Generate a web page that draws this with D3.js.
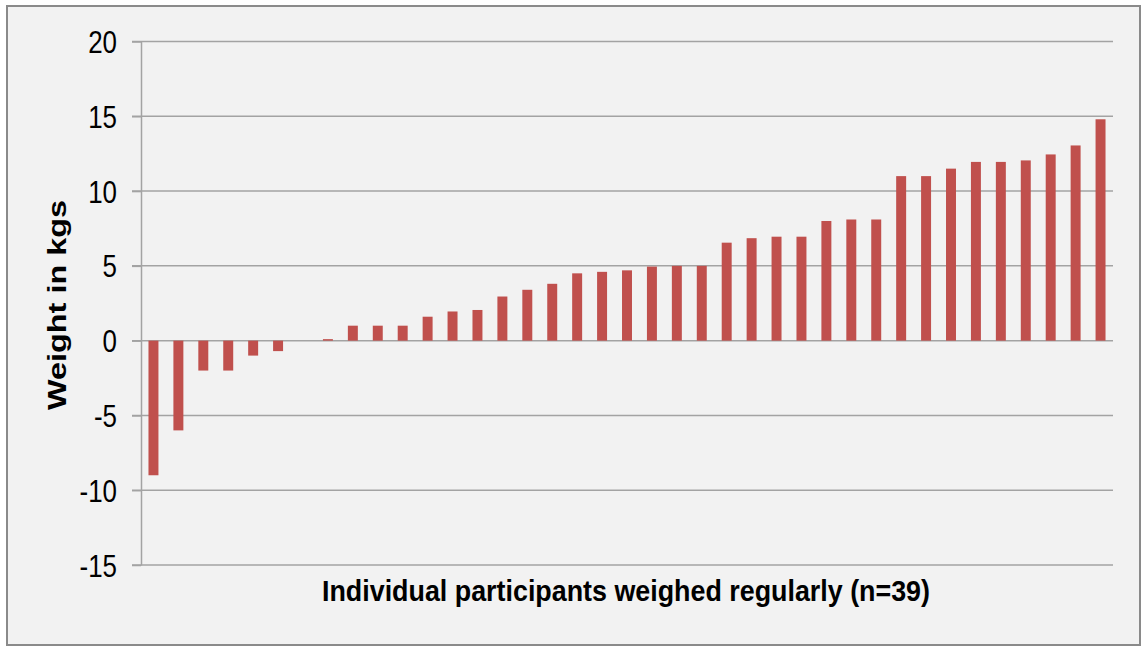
<!DOCTYPE html>
<html>
<head>
<meta charset="utf-8">
<script src="https://cdn.jsdelivr.net/npm/d3@7"></script>
<style>
  html, body { margin: 0; padding: 0; background: #ffffff; }
  svg { display: block; }
  text { font-family: "Liberation Sans", Arial, sans-serif; fill: #000; }
</style>
</head>
<body>
<svg id="chart" width="1141" height="646"></svg>
<script>
// ---- data ----
const participants = d3.range(1, 40); // 39 participants
const weightChange = [-9, -6, -2, -2, -1, -0.7, 0, 0.1, 1, 1, 1, 1.6, 1.95, 2.05, 2.95, 3.4, 3.8, 4.5, 4.6, 4.7,
  4.95, 5, 5, 6.55, 6.85, 6.95, 6.95, 8, 8.1, 8.1, 11, 11, 11.5, 11.95, 11.95, 12.05, 12.45, 13.05, 14.8];
const yTicks = [-15, -10, -5, 0, 5, 10, 15, 20];
const yTickLabels = ["-15", "-10", "-5", "0", "5", "10", "15", "20"];
const yDomain = [-15, 20];
const yTitle = "Weight in kgs";
const xTitle = "Individual participants weighed regularly (n=39)";

// ---- layout ----
const svg = d3.select("#chart");
const plot = { left: 141, right: 1113, top: 41.5, bottom: 565 };

svg.append("rect")
  .attr("x", 7).attr("y", 6).attr("width", 1133).attr("height", 639)
  .attr("fill", "#f2f2f2").attr("stroke", "#8a8a8a").attr("stroke-width", 2);

const x = d3.scaleBand().domain(participants)
  .range([plot.left, plot.right]).paddingInner(0.6).paddingOuter(0.3);
const y = d3.scaleLinear().domain(yDomain).range([plot.bottom, plot.top]);

// gridlines
svg.append("g").selectAll("line").data(yTicks).join("line")
  .attr("x1", plot.left - 9).attr("x2", plot.right)
  .attr("y1", d => y(d)).attr("y2", d => y(d))
  .attr("stroke", "#a3a3a3").attr("stroke-width", 1.5);

// y axis
const yAxis = svg.append("g").attr("transform", `translate(${plot.left},0)`)
  .call(d3.axisLeft(y).tickValues(yTicks).tickSize(9).tickSizeOuter(0)
    .tickFormat((d, i) => yTickLabels[i]));
yAxis.select(".domain").attr("stroke", "#a3a3a3").attr("stroke-width", 1.5);
yAxis.selectAll(".tick line").attr("stroke", "#a3a3a3").attr("stroke-width", 1.5);
yAxis.selectAll(".tick text")
  .attr("x", null).attr("dy", null)
  .attr("transform", "translate(-24,11) scale(0.85,1)")
  .attr("text-anchor", "end")
  .style("font-size", "30.5px")
  .style("font-family", '"Liberation Sans", Arial, sans-serif')
  .attr("fill", "#000");

// bars
svg.append("g").selectAll("rect").data(weightChange).join("rect")
  .attr("x", (d, i) => x(participants[i]))
  .attr("width", x.bandwidth())
  .attr("y", d => y(Math.max(0, d)))
  .attr("height", d => Math.abs(y(d) - y(0)))
  .attr("fill", "#c0504d");

// titles
svg.append("text")
  .attr("transform", "translate(66,305) rotate(-90)")
  .attr("text-anchor", "middle")
  .attr("textLength", 210).attr("lengthAdjust", "spacingAndGlyphs")
  .style("font-size", "26px").style("font-weight", "bold")
  .text(yTitle);

svg.append("text")
  .attr("x", 626).attr("y", 601)
  .attr("text-anchor", "middle")
  .attr("textLength", 608).attr("lengthAdjust", "spacingAndGlyphs")
  .style("font-size", "29px").style("font-weight", "bold")
  .text(xTitle);
</script>
</body>
</html>
